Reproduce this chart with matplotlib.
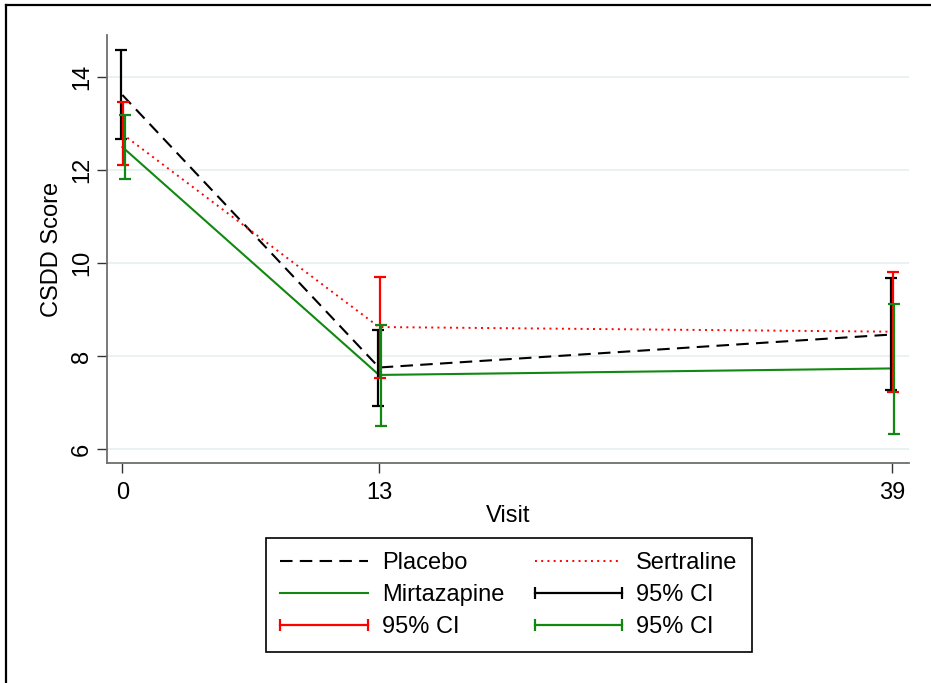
import matplotlib
matplotlib.use("Agg")
import matplotlib.pyplot as plt
import matplotlib.transforms as mtransforms
from matplotlib.lines import Line2D
from matplotlib.legend_handler import HandlerLine2D

plt.rcParams['font.family'] = ['Liberation Sans', 'DejaVu Sans']

# visits (weeks)
visits = [0, 13, 39]

# mean CSDD score and 95% CI per group
placebo_mean = [13.62, 7.76, 8.47]
placebo_lo = [12.67, 6.94, 7.28]
placebo_hi = [14.59, 8.57, 9.68]

sertraline_mean = [12.78, 8.63, 8.53]
sertraline_lo = [12.11, 7.53, 7.23]
sertraline_hi = [13.47, 9.71, 9.82]

mirtazapine_mean = [12.50, 7.60, 7.74]
mirtazapine_lo = [11.81, 6.51, 6.34]
mirtazapine_hi = [13.19, 8.67, 9.13]

yticks = [6, 8, 10, 12, 14]

BLACK = "black"
RED = "#ff0000"
GREEN = "#118811"

fig = plt.figure(figsize=(9.31, 6.83), dpi=100)
ax = fig.add_axes([107 / 931, 1 - 463.3 / 683, (909 - 107) / 931, (463.3 - 35) / 683])

# mean lines
ax.plot(visits, placebo_mean, color=BLACK, lw=1.5, dashes=(6, 3.5), label="Placebo")
ax.plot(visits, sertraline_mean, color=RED, lw=1.4, dashes=(1, 2.2), label="Sertraline")
ax.plot(visits, mirtazapine_mean, color=GREEN, lw=1.5, label="Mirtazapine")


def ci_bars(mean, lo, hi, color, dx_px):
    trans = ax.transData + mtransforms.ScaledTranslation(dx_px / 100, 0, fig.dpi_scale_trans)
    yerr = [[m - l for m, l in zip(mean, lo)], [h - m for m, h in zip(mean, hi)]]
    ax.errorbar(visits, mean, yerr=yerr, fmt="none", ecolor=color, elinewidth=1.6,
                capsize=4.2, capthick=1.6, transform=trans)


ci_bars(placebo_mean, placebo_lo, placebo_hi, BLACK, -1.2)
ci_bars(sertraline_mean, sertraline_lo, sertraline_hi, RED, 0.6)
ci_bars(mirtazapine_mean, mirtazapine_lo, mirtazapine_hi, GREEN, 2.2)

ax.set_xlim(-0.78, 39.85)
ax.set_ylim(5.70, 14.91)
ax.set_xticks(visits)
ax.set_yticks(yticks)
ax.grid(axis="y", color="#e8f0f1", lw=1.3)
ax.set_axisbelow(True)

for s in ["top", "right"]:
    ax.spines[s].set_visible(False)
for s in ["left", "bottom"]:
    ax.spines[s].set_color("#6e6e6e")
    ax.spines[s].set_linewidth(1.3)

ax.tick_params(axis="both", length=7, width=1.0, color="#333333", labelsize=17)
ax.tick_params(axis="x", pad=6.5)
ax.tick_params(axis="y", labelrotation=90, pad=3)
for lab in ax.get_yticklabels():
    lab.set_va("center")

ax.set_xlabel("Visit", fontsize=17, labelpad=1)
ax.set_ylabel("CSDD Score", fontsize=17, labelpad=6)

# legend
ci_kw = dict(lw=1.6, marker="|", markersize=9, markeredgewidth=1.6)
handles = [
    Line2D([], [], color=BLACK, lw=1.5, dashes=(6, 3.5)),
    Line2D([], [], color=GREEN, lw=1.5),
    Line2D([], [], color=RED, **ci_kw),
    Line2D([], [], color=RED, lw=1.4, dashes=(1, 2.2)),
    Line2D([], [], color=BLACK, **ci_kw),
    Line2D([], [], color=GREEN, **ci_kw),
]
labels = ["Placebo", "Mirtazapine", "95% CI", "Sertraline", "95% CI", "95% CI"]
leg = fig.legend(handles, labels, ncol=2, loc="upper left",
                 bbox_to_anchor=(266 / 931, 1 - 538 / 683), borderaxespad=0,
                 fontsize=17, numpoints=2, handlelength=3.7, handletextpad=0.6,
                 columnspacing=1.3, labelspacing=0.42, borderpad=0.6,
                 fancybox=False, framealpha=1, edgecolor="black",
                 handler_map={Line2D: HandlerLine2D(marker_pad=0)})
leg.get_frame().set_linewidth(1.2)

# outer frame (top and left edges visible)
fig.add_artist(Line2D([6 / 931, 6 / 931], [0, 1 - 5 / 683], color="black", lw=1.6,
                      transform=fig.transFigure))
fig.add_artist(Line2D([6 / 931, 1], [1 - 5 / 683, 1 - 5 / 683], color="black", lw=1.6,
                      transform=fig.transFigure))

fig.savefig("out.png", dpi=100)
